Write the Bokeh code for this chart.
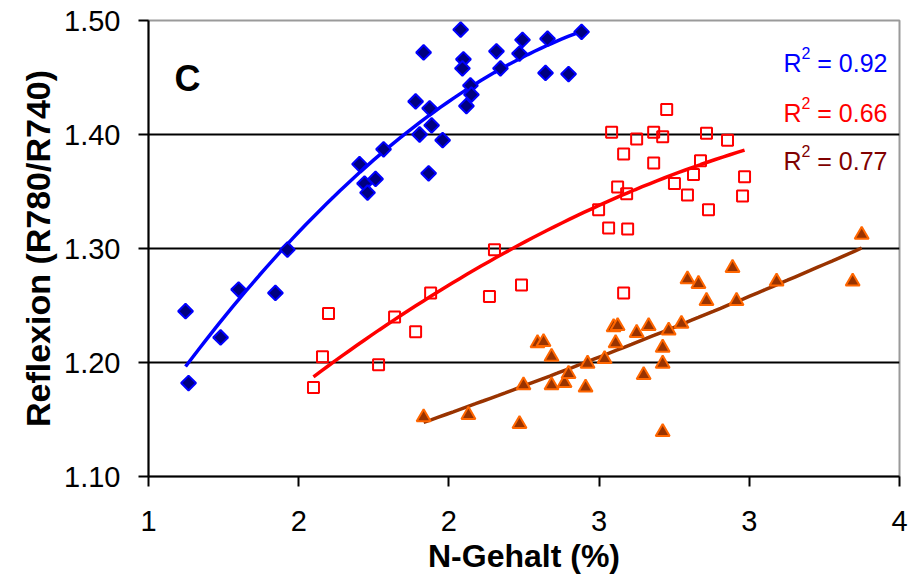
import numpy as np
from bokeh.plotting import figure
from bokeh.models import Range1d, FixedTicker, NumeralTickFormatter, Label
from bokeh.embed import file_html
from bokeh.resources import INLINE

# --- data ---
blue_x = [1.148, 1.160, 1.288, 1.360, 1.507, 1.555, 1.843, 1.863, 1.875, 1.907, 1.939,
          2.067, 2.099, 2.123, 2.083, 2.131, 2.175, 2.119, 2.247, 2.258, 2.254, 2.286,
          2.290, 2.270, 2.390, 2.406, 2.494, 2.482, 2.594, 2.586, 2.678, 2.730]
blue_y = [1.245, 1.182, 1.222, 1.264, 1.261, 1.299, 1.374, 1.357, 1.349, 1.361, 1.387,
          1.429, 1.472, 1.423, 1.400, 1.408, 1.395, 1.366, 1.492, 1.466, 1.458, 1.443,
          1.435, 1.425, 1.473, 1.458, 1.483, 1.471, 1.484, 1.454, 1.453, 1.490]

red_x = [1.659, 1.695, 1.719, 1.919, 1.983, 2.067, 2.127, 2.362, 2.382, 2.490, 2.898,
         2.798, 2.838, 2.914, 2.874, 2.910, 2.898, 2.850, 2.950, 3.018, 3.054, 3.070,
         3.018, 3.101, 3.153, 3.177, 3.205, 3.229, 3.237, 3.313, 3.381, 3.373]
red_y = [1.178, 1.205, 1.243, 1.198, 1.240, 1.227, 1.261, 1.258, 1.299, 1.268, 1.261,
         1.334, 1.318, 1.317, 1.354, 1.348, 1.383, 1.402, 1.396, 1.402, 1.398, 1.422,
         1.375, 1.357, 1.347, 1.365, 1.377, 1.401, 1.334, 1.395, 1.363, 1.346]

orange_x = [2.099, 2.278, 2.482, 2.498, 2.610, 2.662, 2.678, 2.746, 2.554, 2.578, 2.610,
            2.754, 2.822, 2.858, 2.874, 2.866, 2.950, 2.978, 2.998, 3.054, 3.054, 3.054,
            3.078, 3.129, 3.153, 3.197, 3.229, 3.333, 3.349, 3.509, 3.813, 3.849]
orange_y = [1.152, 1.154, 1.146, 1.180, 1.180, 1.182, 1.190, 1.178, 1.217, 1.218, 1.205,
            1.199, 1.203, 1.231, 1.232, 1.217, 1.226, 1.189, 1.232, 1.213, 1.199, 1.139,
            1.228, 1.234, 1.273, 1.269, 1.254, 1.283, 1.254, 1.271, 1.271, 1.312]

r2_labels = ["0.92", "0.66", "0.77"]
x_ticks = [1.0, 1.6, 2.2, 2.8, 3.4, 4.0]
y_ticks = [1.10, 1.20, 1.30, 1.40, 1.50]

FONT = "Liberation Sans"
BLUE, RED, BROWN, ORANGE, NAVY, DKRED = "#0000FF", "#FF0000", "#993300", "#FF6600", "#000080", "#800000"

p = figure(width=916, height=581, output_backend="svg", toolbar_location=None,
           x_range=Range1d(1, 4), y_range=Range1d(1.1, 1.5))
p.min_border_left = 148
p.min_border_right = 17
p.min_border_top = 20
p.min_border_bottom = 105
p.outline_line_color = "#9a9a9a"
p.outline_line_width = 2
p.background_fill_color = "white"
p.border_fill_color = "white"

p.xgrid.grid_line_color = None
p.ygrid.grid_line_color = "black"
p.ygrid.grid_line_width = 2
p.ygrid.ticker = FixedTicker(ticks=[1.2, 1.3, 1.4])

for ax in (p.xaxis[0], p.yaxis[0]):
    ax.axis_line_color = "black"
    ax.axis_line_width = 2
    ax.major_tick_line_color = "black"
    ax.major_tick_line_width = 2
    ax.major_tick_in = 0
    ax.major_tick_out = 10
    ax.minor_tick_line_color = None
    ax.major_label_text_font = FONT
    ax.major_label_text_font_size = "29px"
    ax.major_label_text_color = "black"
    ax.axis_label_text_font = FONT
    ax.axis_label_text_font_style = "bold"
    ax.axis_label_text_font_size = "32px"
    ax.axis_label_text_color = "black"

p.xaxis.ticker = FixedTicker(ticks=x_ticks)
p.xaxis.formatter = NumeralTickFormatter(format="0")
p.xaxis.major_label_standoff = 24
p.xaxis.axis_label = "N-Gehalt (%)"
p.xaxis.axis_label_standoff = 4

p.yaxis.ticker = FixedTicker(ticks=y_ticks)
p.yaxis.formatter = NumeralTickFormatter(format="0.00")
p.yaxis.major_label_standoff = 18
p.yaxis.axis_label = "Reflexion (R780/R740)"
p.yaxis.axis_label_standoff = 4
p.yaxis.axis_label_text_font_size = "34px"


def trend(xs, ys, deg=2, n=60):
    c = np.polyfit(xs, ys, deg)
    xx = np.linspace(min(xs), max(xs), n)
    return xx, np.polyval(c, xx)

for xs, ys, col in ((blue_x, blue_y, BLUE), (red_x, red_y, RED), (orange_x, orange_y, BROWN)):
    tx, ty = trend(xs, ys)
    p.line(tx, ty, line_color=col, line_width=3.5)

p.scatter(blue_x, blue_y, marker="square", angle=np.pi / 4, size=10.5,
          fill_color=NAVY, line_color=BLUE, line_width=2)
p.scatter(red_x, red_y, marker="square", size=11, fill_color=None,
          line_color=RED, line_width=2)
p.scatter(orange_x, orange_y, marker="triangle", size=14, fill_color=BROWN,
          line_color=ORANGE, line_width=2)

p.add_layout(Label(x=1.156, y=1.449, text="C", text_font=FONT, text_font_style="bold",
                   text_font_size="36px", text_align="center", text_baseline="middle",
                   text_color="black"))

r2_y = [1.463, 1.419, 1.377]
r2_col = [BLUE, RED, DKRED]
for lab, yy, col in zip(r2_labels, r2_y, r2_col):
    p.add_layout(Label(x=3.952, y=yy, text="= " + lab, text_font=FONT, text_font_size="25px",
                       text_align="right", text_baseline="middle", text_color=col))
    p.add_layout(Label(x=3.952, y=yy, x_offset=-104, text="R", text_font=FONT,
                       text_font_size="25px", text_align="left", text_baseline="middle",
                       text_color=col))
    p.add_layout(Label(x=3.952, y=yy, x_offset=-86, y_offset=10, text="2", text_font=FONT,
                       text_font_size="16px", text_align="left", text_baseline="middle",
                       text_color=col))

open("out.html", "w").write(file_html(p, INLINE))
